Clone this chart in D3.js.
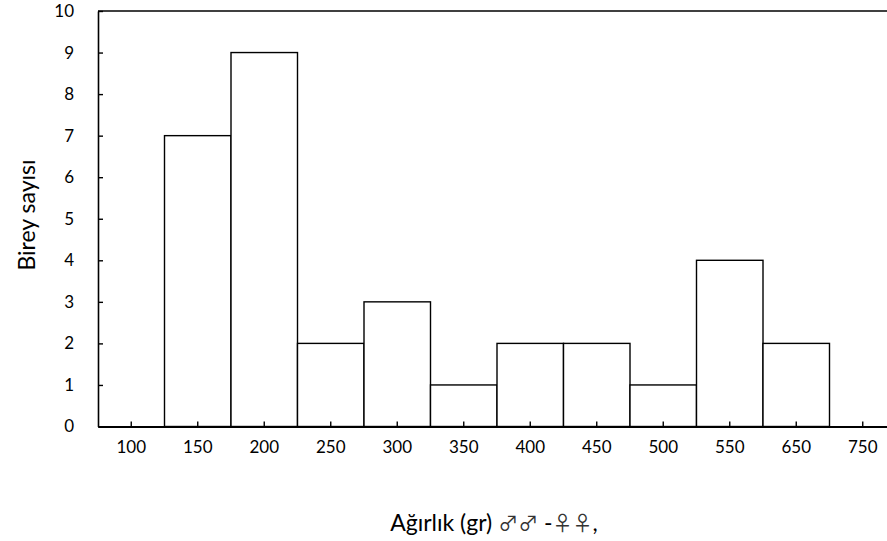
<!DOCTYPE html>
<html><head><meta charset="utf-8">
<script src="https://cdn.jsdelivr.net/npm/d3@7"></script>
<style>body{margin:0;background:#fff}svg{display:block}text{font-family:Lato,"Open Sans",sans-serif;fill:#000}</style>
</head><body>
<svg id="c" width="887" height="541"></svg>
<script>
const categories = ["100","150","200","250","300","350","400","450","500","550","650","750"];
const counts = [0,7,9,2,3,1,2,2,1,4,2,0];
const yTicks = [0,1,2,3,4,5,6,7,8,9,10];
const xTitleParts = [["Ağırlık (gr) ", "text"], ["♂♂", "sym"], [" -", "text"], ["♀♀", "sym"], [",", "text"]];
const yTitle = "Birey sayısı";

const svg = d3.select("#c");
const m = {l:98, r:896, t:11, b:426.5};
const x = d3.scaleBand().domain(categories).range([m.l, m.r]).padding(0);
const y = d3.scaleLinear().domain([0,10]).range([m.b, m.t]);

// top frame line
svg.append("line").attr("x1", m.l).attr("x2", m.r).attr("y1", m.t).attr("y2", m.t)
  .attr("stroke","#000").attr("stroke-width",1.6);

// bars
svg.append("g").selectAll("rect").data(categories.map((c,i)=>({c, v:counts[i]})).filter(d=>d.v>0))
  .join("rect")
  .attr("x", d=>x(d.c)).attr("width", x.bandwidth())
  .attr("y", d=>y(d.v)).attr("height", d=>y(0)-y(d.v))
  .attr("fill","#fff").attr("stroke","#000").attr("stroke-width",1.4);

// y axis
const ya = svg.append("g").attr("transform",`translate(${m.l},0)`)
  .call(d3.axisLeft(y).tickValues(yTicks).tickFormat(d3.format("d")).tickSizeInner(-5).tickSizeOuter(0).tickPadding(24));
ya.select(".domain").attr("stroke-width",1.6);
ya.selectAll(".tick line").attr("stroke-width",1.4);
ya.selectAll("text").attr("font-size",17).style("font-family","Lato");

// x axis
const xa = svg.append("g").attr("transform",`translate(0,${m.b})`)
  .call(d3.axisBottom(x).tickSizeInner(-5).tickSizeOuter(0).tickPadding(14));
xa.select(".domain").attr("stroke-width",1.8);
xa.selectAll(".tick line").attr("stroke-width",1.4);
xa.selectAll("text").attr("font-size",17).style("font-family","Lato");

// titles
const xt = svg.append("text").attr("x", 494).attr("y", 531).attr("text-anchor","middle")
  .attr("font-size",23);
xt.selectAll("tspan").data(xTitleParts).join("tspan")
  .text(d=>d[0])
  .style("font-family", d=>d[1]==="sym" ? "'Noto Sans CJK JP'" : "Lato")
  .attr("font-size", d=>d[1]==="sym" ? 20 : 23)
  .attr("fill", d=>d[1]==="sym" ? "#333" : "#000");
svg.append("text").attr("transform","translate(35,215) rotate(-90)").attr("text-anchor","middle")
  .attr("font-size",23).text(yTitle);
</script>
</body></html>
